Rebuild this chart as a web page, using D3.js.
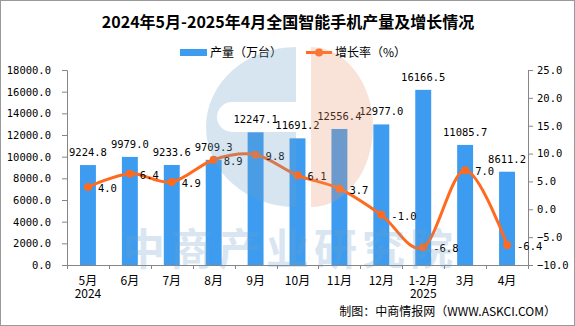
<!DOCTYPE html>
<html>
<head>
<meta charset="utf-8">
<script src="https://cdn.jsdelivr.net/npm/d3@7"></script>
<style>
  html, body { margin: 0; padding: 0; background: #fff; }
  svg { display: block; }
</style>
</head>
<body>
<div id="chart"></div>
<script>
const months = ["5月", "6月", "7月", "8月", "9月", "10月", "11月", "12月", "1-2月", "3月", "4月"];
const years = ["2024", "", "", "", "", "", "", "", "2025", "", ""];
const output = [9224.8, 9979.0, 9233.6, 9709.3, 12247.1, 11691.2, 12556.4, 12977.0, 16166.5, 11085.7, 8611.2];
const growth = [4.0, 6.4, 4.9, 8.9, 9.8, 6.1, 3.7, -1.0, -6.8, 7.0, -6.4];
const leftTicks = [0, 2000, 4000, 6000, 8000, 10000, 12000, 14000, 16000, 18000];
const rightTicks = [-10, -5, 0, 5, 10, 15, 20, 25];

const W = 575, H = 326;
const plot = { left: 67, right: 528, top: 70, bottom: 265 };
const numFont = "'DejaVu Sans Mono', monospace";
const cjkFont = "'Noto Sans CJK SC', sans-serif";
const barColor = "#3d9cf0";
const lineColor = "#ff6a1f";
const axisColor = "#868686";

const svg = d3.select("#chart").append("svg")
  .attr("width", W)
  .attr("height", H);

// outer frame
svg.append("rect")
  .attr("x", 0.5).attr("y", 0.5)
  .attr("width", W - 1).attr("height", H - 1)
  .attr("fill", "#fff")
  .attr("stroke", "#9a9a9a");

// title
svg.append("text")
  .attr("x", 288).attr("y", 28)
  .attr("text-anchor", "middle")
  .style("font-family", cjkFont)
  .style("font-size", "16px")
  .style("font-weight", "bold")
  .text("2024年5月-2025年4月全国智能手机产量及增长情况");

// legend
const legend = svg.append("g").style("font-family", cjkFont).style("font-size", "12px");
legend.append("rect").attr("x", 180).attr("y", 49).attr("width", 27).attr("height", 7).attr("fill", barColor);
legend.append("text").attr("x", 210).attr("y", 57).text("产量（万台）");
legend.append("line").attr("x1", 306).attr("x2", 332).attr("y1", 52.5).attr("y2", 52.5)
  .attr("stroke", lineColor).attr("stroke-width", 3);
legend.append("circle").attr("cx", 319).attr("cy", 52.5).attr("r", 4).attr("fill", lineColor);
legend.append("text").attr("x", 335).attr("y", 57).text("增长率（%）");

// scales
const x = d3.scaleBand()
  .domain(months)
  .range([plot.left, plot.right])
  .paddingInner(0.62)
  .paddingOuter(0.31);
const yL = d3.scaleLinear().domain([0, 18000]).range([plot.bottom, plot.top]);
const yR = d3.scaleLinear().domain([-10, 25]).range([plot.bottom, plot.top]);
const cx = m => x(m) + x.bandwidth() / 2;

// left axis
const axL = svg.append("g")
  .attr("transform", `translate(${plot.left},0)`)
  .call(d3.axisLeft(yL).tickValues(leftTicks).tickSize(5).tickPadding(11).tickFormat(d3.format(".1f")));
axL.selectAll("text").style("font-family", numFont).style("font-size", "10.5px").attr("fill", "#000");

// right axis
const axR = svg.append("g")
  .attr("transform", `translate(${plot.right},0)`)
  .call(d3.axisRight(yR).tickValues(rightTicks).tickSize(5).tickPadding(4).tickFormat(d3.format(".1f")));
axR.selectAll("text").style("font-family", numFont).style("font-size", "10.5px").attr("fill", "#000");

[axL, axR].forEach(a => {
  a.select(".domain").attr("stroke", axisColor);
  a.selectAll(".tick line").attr("stroke", axisColor);
});

// bars
svg.append("g").selectAll("rect")
  .data(months)
  .join("rect")
  .attr("x", d => x(d))
  .attr("y", (d, i) => yL(output[i]))
  .attr("width", x.bandwidth())
  .attr("height", (d, i) => yL(0) - yL(output[i]))
  .attr("fill", barColor);

// bottom axis
const gap = (x.step() - x.bandwidth()) / 2;
const bounds = months.map(m => x(m) - gap).concat([x(months[months.length - 1]) + x.bandwidth() + gap]);
svg.append("line")
  .attr("x1", plot.left).attr("x2", plot.right)
  .attr("y1", plot.bottom + 0.5).attr("y2", plot.bottom + 0.5)
  .attr("stroke", axisColor);
svg.append("g").selectAll("line")
  .data(bounds)
  .join("line")
  .attr("x1", d => Math.round(d) + 0.5).attr("x2", d => Math.round(d) + 0.5)
  .attr("y1", plot.bottom).attr("y2", plot.bottom + 4)
  .attr("stroke", axisColor);

const xl = svg.append("g").style("font-family", cjkFont).style("font-size", "12px").attr("text-anchor", "middle");
xl.selectAll("text.m")
  .data(months)
  .join("text")
  .attr("class", "m")
  .attr("x", d => cx(d))
  .attr("y", 285)
  .text(d => d);
xl.selectAll("text.yr")
  .data(months)
  .join("text")
  .attr("class", "yr")
  .attr("x", d => cx(d))
  .attr("y", 298)
  .text((d, i) => years[i]);

// bar labels
svg.append("g").selectAll("text")
  .data(months)
  .join("text")
  .attr("x", d => cx(d))
  .attr("y", (d, i) => yL(output[i]) - 9)
  .attr("text-anchor", "middle")
  .style("font-family", numFont)
  .style("font-size", "10.5px")
  .text((d, i) => output[i].toFixed(1));

// growth line
const line = d3.line()
  .x(d => cx(d))
  .y((d, i) => yR(growth[i]))
  .curve(d3.curveCardinal.tension(0));
svg.append("path")
  .datum(months)
  .attr("d", line)
  .attr("fill", "none")
  .attr("stroke", lineColor)
  .attr("stroke-width", 3);

svg.append("g").selectAll("circle")
  .data(months)
  .join("circle")
  .attr("cx", d => cx(d))
  .attr("cy", (d, i) => yR(growth[i]))
  .attr("r", 4)
  .attr("fill", lineColor);

svg.append("g").selectAll("text")
  .data(months)
  .join("text")
  .attr("x", d => cx(d) + 10)
  .attr("y", (d, i) => yR(growth[i]) + 5)
  .style("font-family", numFont)
  .style("font-size", "10.5px")
  .text((d, i) => growth[i].toFixed(1));

// watermark (logo + text), semi-transparent over the plot
const wm = svg.append("g").attr("pointer-events", "none");
const blueHalf = "M296,47 A90,80 0 0 0 296,207 Z";
const slot = "M296,102 L232,102 A15,15 0 0 0 232,132 L296,132 Z";
wm.append("path")
  .attr("d", blueHalf + " " + slot)
  .attr("fill-rule", "evenodd")
  .attr("fill", "#6aa0c8")
  .attr("opacity", 0.28);
wm.append("path")
  .attr("d", "M311,47 A62,80 0 0 1 311,207 Z")
  .attr("fill", "#e8966e")
  .attr("opacity", 0.28);
wm.append("text")
  .attr("x", 290).attr("y", 265)
  .attr("text-anchor", "middle")
  .style("font-family", cjkFont)
  .style("font-size", "43px")
  .style("font-weight", "bold")
  .style("letter-spacing", "5px")
  .attr("fill", "#6aa0c8")
  .attr("opacity", 0.25)
  .text("中商产业研究院");

// footer
svg.append("text")
  .attr("x", 556).attr("y", 316)
  .attr("text-anchor", "end")
  .style("font-family", cjkFont)
  .style("font-size", "12px")
  .text("制图：中商情报网（WWW.ASKCI.COM）");
</script>
</body>
</html>
